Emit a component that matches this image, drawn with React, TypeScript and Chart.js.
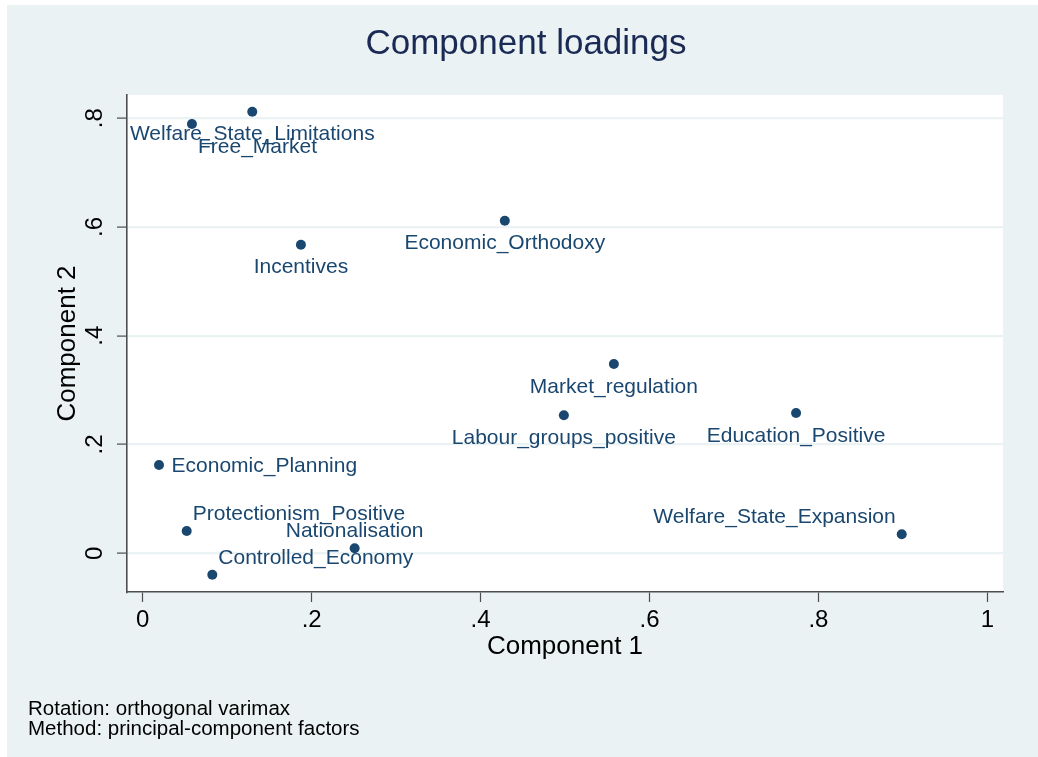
import React, { useEffect, useRef } from "react";
import { Chart, registerables } from "chart.js";

Chart.register(...registerables);

// ---------- data ----------
const variables = [
  "Welfare_State_Limitations",
  "Free_Market",
  "Incentives",
  "Economic_Orthodoxy",
  "Market_regulation",
  "Labour_groups_positive",
  "Education_Positive",
  "Welfare_State_Expansion",
  "Economic_Planning",
  "Protectionism_Positive",
  "Nationalisation",
  "Controlled_Economy",
];
const component1 = [0.1297, 0.0583, 0.1873, 0.4287, 0.5578, 0.4986, 0.7735, 0.8986, 0.0193, 0.0521, 0.2509, 0.0824];
const component2 = [0.8121, 0.7895, 0.5675, 0.6117, 0.3481, 0.2538, 0.258, 0.0349, 0.1624, 0.041, 0.0092, -0.0394];
// marker-label clock positions (Stata mlabposition)
const labelClock = [6, 5, 6, 6, 6, 6, 6, 11, 3, 1, 12, 1];
const xTicks = [0, 0.2, 0.4, 0.6, 0.8, 1];
const yTicks = [0, 0.2, 0.4, 0.6, 0.8];
const titleText = "Component loadings";
const xTitle = "Component 1";
const yTitle = "Component 2";
const noteLines = ["Rotation: orthogonal varimax", "Method: principal-component factors"];

// ---------- styles ----------
const FONT = "'Liberation Sans', Arial, Helvetica, sans-serif";
const NAVY = "#1A476F";
const BG = "#EAF2F3";
const AXIS = "#4d4d4d";
const W = 1038;
const H = 757;

const fmtTick = (v: number) => {
  const r = Math.round(v * 10) / 10;
  if (r === 0) return "0";
  if (r === 1) return "1";
  return String(r).replace(/^0/, "").replace(/^-0/, "-");
};

const backgroundPlugin = {
  id: "stataBackground",
  beforeDraw(chart: any) {
    const { ctx, chartArea } = chart;
    ctx.save();
    ctx.fillStyle = "#ffffff";
    ctx.fillRect(0, 0, W, H);
    ctx.fillStyle = BG;
    ctx.fillRect(7, 5, W - 7, H - 5);
    ctx.fillStyle = "#ffffff";
    ctx.fillRect(chartArea.left, chartArea.top, chartArea.right - chartArea.left, chartArea.bottom - chartArea.top);
    ctx.restore();
  },
};

const labelPlugin = {
  id: "markerLabels",
  afterDatasetsDraw(chart: any) {
    const { ctx } = chart;
    const meta = chart.getDatasetMeta(0);
    ctx.save();
    ctx.font = `21px ${FONT}`;
    ctx.fillStyle = NAVY;
    ctx.textBaseline = "middle";
    meta.data.forEach((pt: any, i: number) => {
      const x = pt.x;
      const y = pt.y;
      let dx = 0;
      let dy = 0;
      let align: CanvasTextAlign = "center";
      switch (labelClock[i]) {
        case 6:
          dy = 23;
          break;
        case 5:
          dx = 6;
          dy = 23;
          align = "left";
          break;
        case 12:
          dy = -17.5;
          break;
        case 1:
          dx = 6;
          dy = -16.5;
          align = "left";
          break;
        case 11:
          dx = -6;
          dy = -17.5;
          align = "right";
          break;
        case 3:
          dx = 12.5;
          dy = 1;
          align = "left";
          break;
      }
      ctx.textAlign = align;
      ctx.fillText(variables[i], x + dx, y + dy);
    });
    ctx.restore();
  },
};

const notePlugin = {
  id: "notes",
  afterDraw(chart: any) {
    const { ctx } = chart;
    ctx.save();
    ctx.font = `20.5px ${FONT}`;
    ctx.fillStyle = "#000000";
    ctx.textAlign = "left";
    ctx.textBaseline = "alphabetic";
    noteLines.forEach((line, i) => {
      ctx.fillText(line, 28, 715 + i * 20);
    });
    ctx.restore();
  },
};

export default function App() {
  const canvasRef = useRef<HTMLCanvasElement | null>(null);

  useEffect(() => {
    if (!canvasRef.current) return;
    const points = component1.map((x, i) => ({ x, y: component2[i] }));
    const chart = new Chart(canvasRef.current, {
      type: "scatter",
      data: {
        datasets: [
          {
            label: "loadings",
            data: points,
            backgroundColor: NAVY,
            borderColor: NAVY,
            pointRadius: 5,
            pointHoverRadius: 5,
            borderWidth: 0,
          },
        ],
      },
      plugins: [backgroundPlugin, labelPlugin, notePlugin],
      options: {
        animation: false,
        responsive: false,
        devicePixelRatio: 1,
        events: [],
        layout: { padding: { left: 49, right: 35, top: 0, bottom: 95 } },
        plugins: {
          legend: { display: false },
          tooltip: { enabled: false },
          title: {
            display: true,
            text: titleText,
            color: "#1a2a55",
            font: { family: FONT, size: 35, weight: "normal" },
            padding: { top: 23, bottom: 30 },
          },
        },
        scales: {
          x: {
            type: "linear",
            min: -0.0186,
            max: 1.0185,
            afterBuildTicks: (s: any) => {
              s.ticks = xTicks.map((v) => ({ value: v }));
            },
            afterFit: (s: any) => {
              s.height = 70;
            },
            grid: {
              color: "rgba(0,0,0,0)",
              tickColor: AXIS,
              tickLength: 10,
              tickWidth: 1.2,
              drawOnChartArea: false,
            },
            border: { display: true, color: AXIS, width: 1.6 },
            ticks: {
              color: "#000000",
              font: { family: FONT, size: 24 },
              padding: 4,
              maxRotation: 0,
              minRotation: 0,
              callback: (v: any) => fmtTick(Number(v)),
            },
            title: {
              display: true,
              text: xTitle,
              color: "#000000",
              font: { family: FONT, size: 26 },
              padding: { top: 0, bottom: 0 },
            },
          },
          y: {
            type: "linear",
            min: -0.0712,
            max: 0.8428,
            afterBuildTicks: (s: any) => {
              s.ticks = yTicks.map((v) => ({ value: v }));
            },
            afterFit: (s: any) => {
              s.width = 78;
            },
            grid: {
              color: BG,
              lineWidth: 2.2,
              tickColor: AXIS,
              tickLength: 10,
              tickWidth: 1.2,
            },
            border: { display: true, color: AXIS, width: 1.6 },
            ticks: {
              color: "#000000",
              font: { family: FONT, size: 24 },
              padding: 12,
              minRotation: 90,
              maxRotation: 90,
              crossAlign: "center",
              callback: (v: any) => fmtTick(Number(v)),
            },
            title: {
              display: true,
              text: yTitle,
              color: "#000000",
              font: { family: FONT, size: 26 },
              padding: { top: 3.4, bottom: 0 },
            },
          },
        },
      } as any,
    });
    return () => chart.destroy();
  }, []);

  return (
    <div style={{ position: "fixed", left: 0, top: 0, width: W, height: H, background: "#fff" }}>
      <canvas ref={canvasRef} width={W} height={H} style={{ display: "block", width: W, height: H }} />
    </div>
  );
}
